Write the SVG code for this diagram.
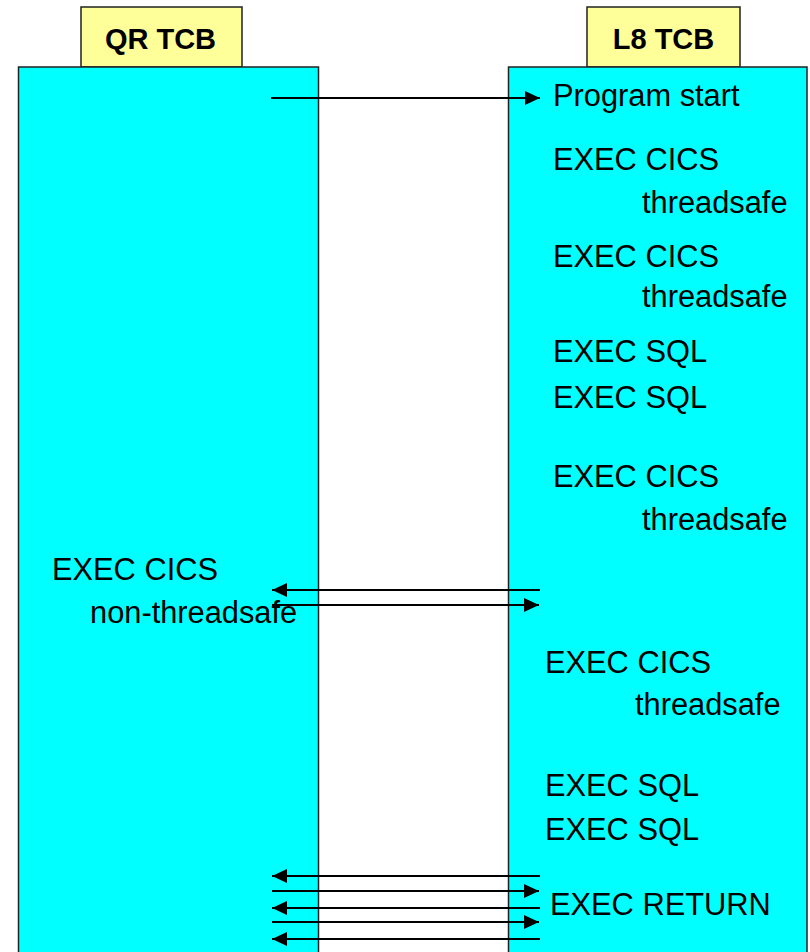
<svg xmlns="http://www.w3.org/2000/svg" width="810" height="952" viewBox="0 0 810 952">
<style>
.tab{fill:#FFFF99;stroke:#222;stroke-width:1.5}
.box{fill:#00FFFF;stroke:#222;stroke-width:1.5}
.hd{font-family:"Liberation Sans",Arial,sans-serif;font-size:29px;font-weight:bold;fill:#000;text-anchor:middle}
.t{font-family:"Liberation Sans",Arial,sans-serif;font-size:30.8px;fill:#000}
.a{stroke:#000;stroke-width:2.2;fill:none;marker-end:url(#ah)}
</style>
<defs>
<marker id="ah" markerUnits="userSpaceOnUse" markerWidth="16" markerHeight="14" refX="15" refY="7" orient="auto">
<path d="M0,0 L15,7 L0,14 Z" fill="#000"/>
</marker>
</defs>
<rect width="810" height="952" fill="#fff"/>
<g id="qr-tcb">
<rect class="tab" x="81" y="7" width="161" height="60"/>
<text class="hd" x="160.5" y="49">QR TCB</text>
<rect class="box" x="18.5" y="67" width="300" height="900"/>
<text class="t" x="52" y="580">EXEC CICS</text>
<text class="t" x="90" y="623">non-threadsafe</text>
</g>
<g id="l8-tcb">
<rect class="tab" x="587" y="7" width="153" height="60"/>
<text class="hd" x="663.5" y="49">L8 TCB</text>
<rect class="box" x="508.5" y="67" width="298.5" height="900"/>
<text class="t" x="553" y="106">Program start</text>
<text class="t" x="553" y="170">EXEC CICS</text>
<text class="t" x="642" y="213">threadsafe</text>
<text class="t" x="553" y="267">EXEC CICS</text>
<text class="t" x="642" y="307">threadsafe</text>
<text class="t" x="553" y="362">EXEC SQL</text>
<text class="t" x="553" y="408">EXEC SQL</text>
<text class="t" x="553" y="487">EXEC CICS</text>
<text class="t" x="642" y="530">threadsafe</text>
<text class="t" x="545" y="673">EXEC CICS</text>
<text class="t" x="635" y="715">threadsafe</text>
<text class="t" x="545" y="796">EXEC SQL</text>
<text class="t" x="545" y="840">EXEC SQL</text>
<text class="t" x="550" y="915">EXEC RETURN</text>
</g>
<g id="connectors">
<line class="a" x1="271" y1="98" x2="540" y2="98"/>
<line class="a" x1="540" y1="590" x2="272" y2="590"/>
<line class="a" x1="272" y1="605" x2="539" y2="605"/>
<line class="a" x1="540" y1="876" x2="272" y2="876"/>
<line class="a" x1="272" y1="891" x2="539" y2="891"/>
<line class="a" x1="540" y1="908" x2="272" y2="908"/>
<line class="a" x1="272" y1="922" x2="539" y2="922"/>
<line class="a" x1="540" y1="939" x2="272" y2="939"/>
</g>
</svg>
